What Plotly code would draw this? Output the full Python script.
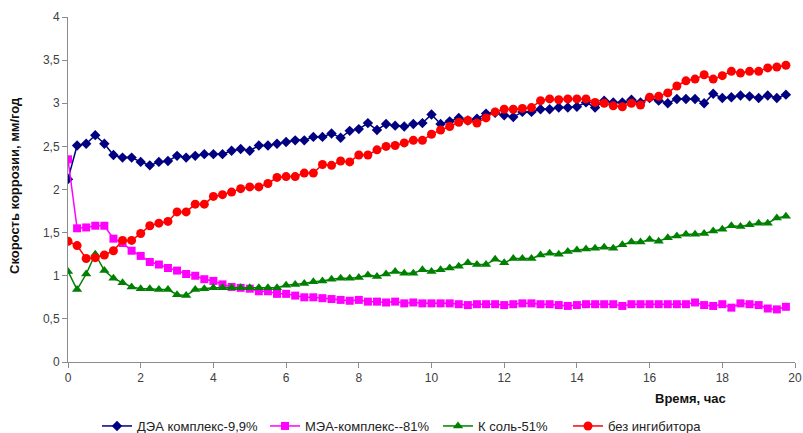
import plotly.graph_objects as go

# Sampling times, hours (one reading every 15 minutes)
time_h = [i / 4 for i in range(80)]

# Corrosion rate, mm/year — four readings per hour
dea_complex = [
    2.12, 2.51, 2.53, 2.63, 2.53, 2.40, 2.37, 2.37, 2.32, 2.28, 2.32, 2.33,
    2.39, 2.37, 2.39, 2.41, 2.41, 2.41, 2.45, 2.47, 2.45, 2.51, 2.51, 2.53,
    2.55, 2.57, 2.57, 2.61, 2.61, 2.65, 2.60, 2.68, 2.70, 2.77, 2.69, 2.76,
    2.74, 2.73, 2.76, 2.77, 2.87, 2.76, 2.79, 2.83, 2.80, 2.82, 2.88, 2.89,
    2.86, 2.84, 2.90, 2.90, 2.93, 2.93, 2.95, 2.95, 2.96, 3.01, 2.95, 3.03,
    3.01, 3.01, 3.04, 3.01, 3.06, 3.03, 3.00, 3.05, 3.05, 3.05, 3.00, 3.11,
    3.06, 3.07, 3.09, 3.08, 3.06, 3.09, 3.06, 3.10,
]
mea_complex = [
    2.35, 1.55, 1.56, 1.58, 1.58, 1.43, 1.38, 1.29, 1.23, 1.16, 1.13, 1.09,
    1.06, 1.02, 1.00, 0.96, 0.94, 0.90, 0.87, 0.86, 0.85, 0.82, 0.82, 0.79,
    0.79, 0.77, 0.75, 0.75, 0.74, 0.73, 0.72, 0.71, 0.72, 0.70, 0.70, 0.69,
    0.70, 0.68, 0.69, 0.68, 0.68, 0.68, 0.68, 0.67, 0.66, 0.67, 0.67, 0.67,
    0.66, 0.67, 0.68, 0.68, 0.67, 0.67, 0.66, 0.65, 0.66, 0.67, 0.67, 0.67,
    0.67, 0.65, 0.67, 0.67, 0.67, 0.67, 0.67, 0.67, 0.67, 0.69, 0.66, 0.65,
    0.67, 0.63, 0.68, 0.67, 0.66, 0.62, 0.61, 0.64,
]
k_salt = [
    1.05, 0.84, 1.02, 1.25, 1.06, 0.97, 0.92, 0.87, 0.85, 0.85, 0.84, 0.84,
    0.78, 0.77, 0.84, 0.85, 0.86, 0.86, 0.86, 0.86, 0.86, 0.86, 0.86, 0.86,
    0.89, 0.90, 0.91, 0.93, 0.94, 0.96, 0.97, 0.97, 0.98, 1.01, 0.99, 1.02,
    1.05, 1.03, 1.03, 1.07, 1.05, 1.07, 1.09, 1.11, 1.15, 1.13, 1.13, 1.19,
    1.15, 1.20, 1.20, 1.20, 1.24, 1.26, 1.25, 1.28, 1.30, 1.31, 1.32, 1.33,
    1.32, 1.36, 1.39, 1.39, 1.42, 1.40, 1.44, 1.46, 1.48, 1.48, 1.49, 1.52,
    1.54, 1.58, 1.57, 1.59, 1.61, 1.61, 1.67, 1.69,
]
no_inhibitor = [
    1.40, 1.35, 1.20, 1.21, 1.24, 1.29, 1.41, 1.41, 1.49, 1.58, 1.61, 1.63,
    1.74, 1.74, 1.83, 1.83, 1.92, 1.94, 1.97, 2.01, 2.03, 2.03, 2.07, 2.14,
    2.15, 2.15, 2.19, 2.19, 2.29, 2.28, 2.33, 2.32, 2.40, 2.40, 2.46, 2.50,
    2.51, 2.54, 2.57, 2.57, 2.64, 2.69, 2.73, 2.78, 2.80, 2.77, 2.83, 2.90,
    2.93, 2.93, 2.94, 2.95, 3.03, 3.05, 3.04, 3.05, 3.05, 3.05, 3.01, 3.00,
    2.97, 2.96, 3.00, 2.98, 3.07, 3.08, 3.12, 3.20, 3.26, 3.28, 3.33, 3.28,
    3.32, 3.37, 3.35, 3.37, 3.37, 3.41, 3.42, 3.44,
]

series_names = ["ДЭА комплекс-9,9%", "МЭА-комплекс--81%", "К соль-51%", "без ингибитора"]

x_ticks = [0, 2, 4, 6, 8, 10, 12, 14, 16, 18, 20]
y_ticks = [0, 0.5, 1, 1.5, 2, 2.5, 3, 3.5, 4]
y_tick_labels = ["0", "0,5", "1", "1,5", "2", "2,5", "3", "3,5", "4"]

x_title = "Время, час"
y_title = "Скорость коррозии, мм/год"

W, H = 803, 433

styles = [
    dict(color="#000080", symbol="diamond", size=8),
    dict(color="#FF00FF", symbol="square", size=8),
    dict(color="#008000", symbol="triangle-up", size=9),
    dict(color="#FF0000", symbol="circle", size=9),
]

# Each series gets its own legend box, laid out in one row under the axis
legend_ids = ["legend", "legend2", "legend3", "legend4"]
legend_left_px = [97, 265, 438, 568]

fig = go.Figure()
for name, values, st, lid in zip(series_names,
                                 [dea_complex, mea_complex, k_salt, no_inhibitor],
                                 styles, legend_ids):
    fig.add_trace(go.Scatter(
        x=time_h, y=values, name=name, mode="lines+markers", legend=lid,
        line=dict(color=st["color"], width=1.5),
        marker=dict(color=st["color"], symbol=st["symbol"], size=st["size"],
                    line=dict(width=0)),
    ))

axis_font = dict(family="Liberation Sans, Arial, sans-serif", size=12, color="#404040")

legend_layout = {}
for lid, left in zip(legend_ids, legend_left_px):
    legend_layout[lid] = dict(
        xref="container", yref="container",
        x=left / W, xanchor="left", y=(H - 426) / H, yanchor="middle",
        orientation="h", font=dict(size=13, color="#222"),
        bgcolor="rgba(0,0,0,0)",
    )

fig.update_layout(
    width=W, height=H,
    margin=dict(l=68, r=8, t=17, b=71, autoexpand=False),
    paper_bgcolor="white", plot_bgcolor="white",
    font=dict(family="Liberation Sans, Arial, sans-serif", size=12, color="#222"),
    showlegend=True,
    xaxis=dict(range=[0, 20], tickvals=x_ticks, showgrid=False, zeroline=False,
               automargin=False,
               showline=True, linecolor="#8c8c8c", linewidth=1,
               ticks="outside", ticklen=5, tickcolor="#8c8c8c",
               tickfont=axis_font),
    yaxis=dict(range=[0, 4], tickvals=y_ticks, ticktext=y_tick_labels,
               showgrid=False, zeroline=False, automargin=False,
               showline=True, linecolor="#8c8c8c", linewidth=1,
               ticks="outside", ticklen=5, tickcolor="#8c8c8c",
               tickfont=axis_font),
    annotations=[
        dict(text=f"<b>{x_title}</b>", xref="paper", yref="paper",
             x=0.856, y=-0.107, xanchor="center", yanchor="middle",
             showarrow=False, font=dict(size=13, color="#111")),
        dict(text=f"<b>{y_title}</b>", xref="paper", yref="paper",
             x=-0.0743, y=0.513, xanchor="center", yanchor="middle",
             textangle=-90, showarrow=False, font=dict(size=13, color="#111")),
    ],
    **legend_layout,
)

fig.write_html("out.html")
